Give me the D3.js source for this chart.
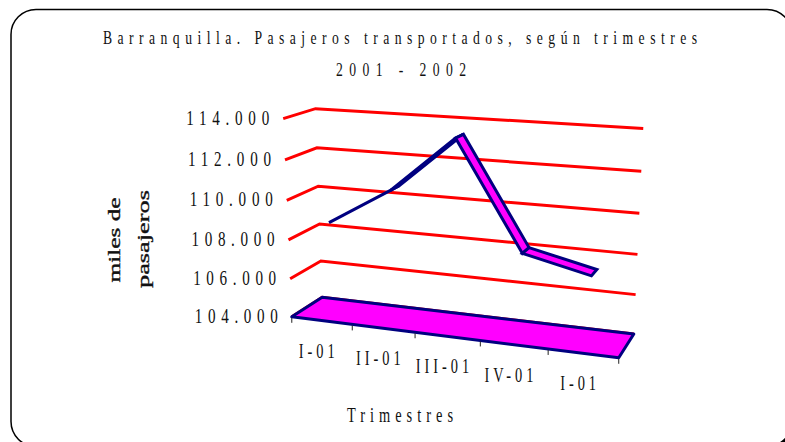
<!DOCTYPE html>
<html>

<head>
    <meta charset="utf-8">
    <script type="text/javascript" src="https://d3js.org/d3.v7.min.js"></script>
    <style>
        body { margin: 0; background: #fff; }
        text { font-family: "Liberation Serif", "Times New Roman", serif; fill: #111; }
    </style>
</head>

<body>
    <script>
        //chart data
        var quarters = ["I-01", "II-01", "III-01", "IV-01", "I-01"];
        var passengers = [108750, 110650, 113400, 108150, 107400];
        var yTicks = [104000, 106000, 108000, 110000, 112000, 114000];

        var width = 785;
        var height = 442;

        //where the corners of the 3d box land on the screen (used to fit a perspective camera)
        //each entry: [x (0..1 along categories), y (0..1 along values), z (0 front .. 1 back), screenX, screenY]
        var calib = [
            [0, 0, 0, 292, 317], [0, .2, 0, 290, 280], [0, .4, 0, 288, 241], [0, .6, 0, 287, 200], [0, .8, 0, 285, 160], [0, 1, 0, 283, 119],
            [0, 0, 1, 322, 297], [0, .2, 1, 321, 261], [0, .4, 1, 320, 223], [0, .6, 1, 318, 186], [0, .8, 1, 317, 148], [0, 1, 1, 316, 108],
            [1, 0, 1, 633, 335], [1, .2, 1, 636, 295], [1, .4, 1, 638, 255], [1, .6, 1, 639, 214], [1, .8, 1, 641, 171], [1, 1, 1, 643, 128],
            [.2, 0, 0, 352, 324], [.4, 0, 0, 415, 332], [.6, 0, 0, 480, 340], [.8, 0, 0, 548, 348], [1, 0, 0, 620, 357]
        ];

        //least squares fit of a 3x4 projection matrix (last entry fixed to 1)
        function fitCamera(pts) {
            var cu = 460, cv = 230, s = 200;
            var n = 11;
            var M = d3.range(n).map(function() { return new Array(n + 1).fill(0); });
            function addRow(r, b) {
                for (var i = 0; i < n; i++) {
                    for (var j = 0; j < n; j++) M[i][j] += r[i] * r[j];
                    M[i][n] += r[i] * b;
                }
            }
            pts.forEach(function(p) {
                var X = p[0], Y = p[1], Z = p[2];
                var u = (p[3] - cu) / s, v = (p[4] - cv) / s;
                addRow([X, Y, Z, 1, 0, 0, 0, 0, -u * X, -u * Y, -u * Z], u);
                addRow([0, 0, 0, 0, X, Y, Z, 1, -v * X, -v * Y, -v * Z], v);
            });
            //gaussian elimination
            for (var c = 0; c < n; c++) {
                var piv = c;
                for (var r = c + 1; r < n; r++) if (Math.abs(M[r][c]) > Math.abs(M[piv][c])) piv = r;
                var tmp = M[c]; M[c] = M[piv]; M[piv] = tmp;
                for (var r2 = 0; r2 < n; r2++) {
                    if (r2 === c) continue;
                    var f = M[r2][c] / M[c][c];
                    for (var k = c; k <= n; k++) M[r2][k] -= f * M[c][k];
                }
            }
            var P = M.map(function(row, i) { return row[n] / row[i]; });
            return function(X, Y, Z) {
                var w = P[8] * X + P[9] * Y + P[10] * Z + 1;
                return [
                    (P[0] * X + P[1] * Y + P[2] * Z + P[3]) / w * s + cu,
                    (P[4] * X + P[5] * Y + P[6] * Z + P[7]) / w * s + cv
                ];
            };
        }
        var project = fitCamera(calib);

        //scales
        var x = d3.scaleBand().domain(d3.range(quarters.length)).range([0, 1]).padding(0);
        var y = d3.scaleLinear().domain([104000, 114000]).range([0, 1]);
        var ribbonZ = [0.34, 0.66];

        var fmt = d3.formatLocale({ decimal: ",", thousands: ".", grouping: [3], currency: ["", ""] }).format(",d");

        var svg = d3.select('body').append('svg').attr('width', width).attr('height', height);

        //frame with shadow
        svg.append('rect').attr('x', 14).attr('y', 12.5).attr('width', 781).attr('height', 437).attr('rx', 25)
            .attr('fill', '#000');
        svg.append('rect').attr('x', 11).attr('y', 9.5).attr('width', 781).attr('height', 437).attr('rx', 25)
            .attr('fill', '#fff').attr('stroke', '#000').attr('stroke-width', 1.5);

        //helper for the squeezed, spaced out excel text
        var sx = 0.72;
        function label(txt, px, py, opt) {
            var t = svg.append('text')
                .attr('transform', 'translate(' + px + ',' + py + ') scale(' + (opt.sx || sx) + ',1)')
                .attr('text-anchor', opt.anchor || 'middle')
                .attr('font-size', opt.size || 20)
                .text(txt);
            if (opt.len) t.attr('textLength', opt.len / (opt.sx || sx)).attr('lengthAdjust', 'spacing');
            if (opt.spacing) t.attr('letter-spacing', opt.spacing);
            return t;
        }

        var line = d3.line();

        //gridlines on the side and back walls
        svg.selectAll('.grid')
            .data(yTicks)
            .enter()
            .append('path')
            .attr('class', 'grid')
            .attr('d', function(d) {
                return line([project(0, y(d), 0), project(0, y(d), 1), project(1, y(d), 1)]);
            })
            .attr('fill', 'none')
            .attr('stroke', '#ff0000')
            .attr('stroke-width', 3);

        //floor plate
        svg.append('path')
            .attr('d', line([project(0, 0, 0), project(0, 0, 1), project(1, 0, 1), project(1, 0, 0)]) + 'Z')
            .attr('fill', '#ff00ff')
            .attr('stroke', '#000080')
            .attr('stroke-width', 3)
            .attr('stroke-linejoin', 'round');

        //category ticks under the front edge
        svg.selectAll('.xtick')
            .data(d3.range(quarters.length + 1))
            .enter()
            .append('path')
            .attr('class', 'xtick')
            .attr('d', function(i) {
                var p = project(i / quarters.length, 0, 0);
                return line([[p[0], p[1] + 1], [p[0], p[1] + 6]]);
            })
            .attr('stroke', '#222')
            .attr('stroke-width', 1);

        //value labels
        yTicks.forEach(function(d) {
            var p = project(0, y(d), 0);
            label(fmt(d), p[0] - 14, p[1] + 6, { anchor: 'end', len: 83, size: 21 });
        });

        //category labels
        quarters.forEach(function(q, i) {
            var p = project(x(i) + x.bandwidth() / 2, 0, 0);
            label(q, p[0] - 3, p[1] + 37, { size: 20, spacing: 5.5 });
        });

        //the ribbon
        var pts = passengers.map(function(v, i) { return [x(i) + x.bandwidth() / 2, y(v)]; });
        svg.selectAll('.ribbon')
            .data(d3.pairs(pts))
            .enter()
            .append('path')
            .attr('class', 'ribbon')
            .attr('d', function(d) {
                var a = d[0], b = d[1];
                return line([
                    project(a[0], a[1], ribbonZ[0]), project(b[0], b[1], ribbonZ[0]),
                    project(b[0], b[1], ribbonZ[1]), project(a[0], a[1], ribbonZ[1])
                ]) + 'Z';
            })
            .attr('fill', '#ff00ff')
            .attr('stroke', '#000080')
            .attr('stroke-width', 3);

        //titles
        label('Barranquilla. Pasajeros transportados, según trimestres', 400, 44, { size: 19, len: 594 });
        label('2001 - 2002', 401, 76, { size: 19, len: 130 });
        label('Trimestres', 400, 422, { size: 20, len: 106 });

        svg.append('text')
            .attr('transform', 'translate(120,240) rotate(-90)')
            .attr('text-anchor', 'middle')
            .attr('font-size', 16)
            .attr('stroke', '#111').attr('stroke-width', 0.35)
            .attr('textLength', 85).attr('lengthAdjust', 'spacingAndGlyphs')
            .text('miles de');
        svg.append('text')
            .attr('transform', 'translate(149,239) rotate(-90)')
            .attr('text-anchor', 'middle')
            .attr('font-size', 16)
            .attr('stroke', '#111').attr('stroke-width', 0.35)
            .attr('textLength', 98).attr('lengthAdjust', 'spacingAndGlyphs')
            .text('pasajeros');
    </script>
</body>

</html>
